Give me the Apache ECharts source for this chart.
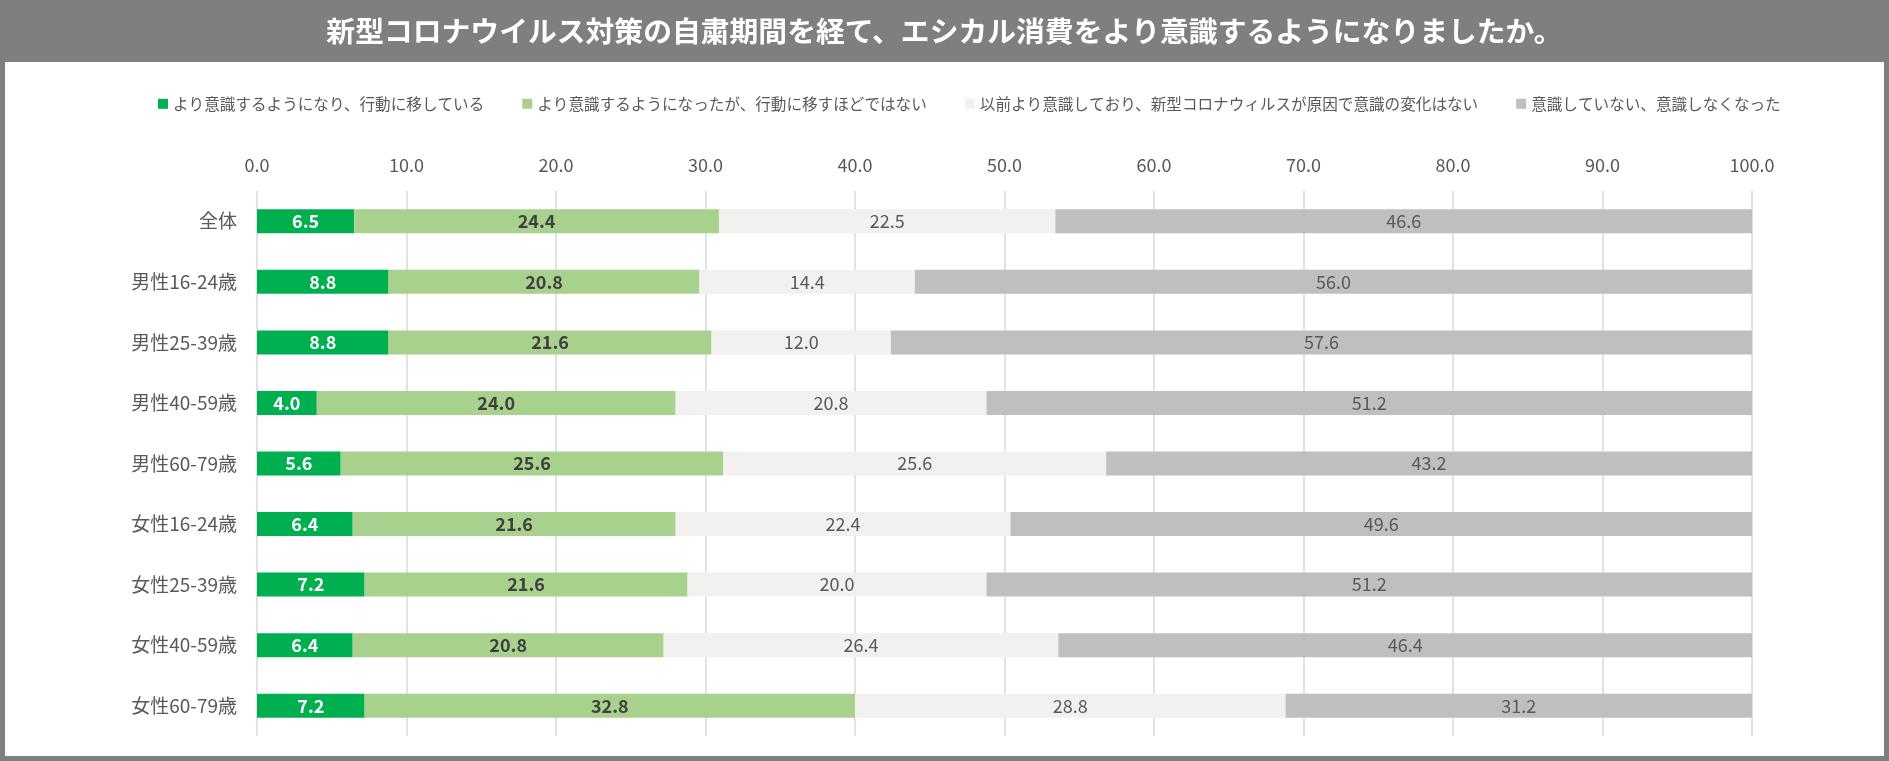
<!DOCTYPE html>
<html><head><meta charset="utf-8">
<script src="https://cdn.jsdelivr.net/npm/echarts@6/dist/echarts.min.js"></script>
<style>html,body{margin:0;padding:0;background:#fff}#c{width:1889px;height:761px}</style>
</head><body><div id="c"></div>
<script>
const titleText = '新型コロナウイルス対策の自粛期間を経て、エシカル消費をより意識するようになりましたか。';
const categories = ['全体','男性16-24歳','男性25-39歳','男性40-59歳','男性60-79歳','女性16-24歳','女性25-39歳','女性40-59歳','女性60-79歳'];
const seriesNames = ['より意識するようになり、行動に移している','より意識するようになったが、行動に移すほどではない','以前より意識しており、新型コロナウィルスが原因で意識の変化はない','意識していない、意識しなくなった'];
const s1 = [6.5, 8.8, 8.8, 4.0, 5.6, 6.4, 7.2, 6.4, 7.2];
const s2 = [24.4, 20.8, 21.6, 24.0, 25.6, 21.6, 21.6, 20.8, 32.8];
const s3 = [22.5, 14.4, 12.0, 20.8, 25.6, 22.4, 20.0, 26.4, 28.8];
const s4 = [46.6, 56.0, 57.6, 51.2, 43.2, 49.6, 51.2, 46.4, 31.2];
const colors = ['#00B050','#A9D18E','#F2F1EF','#BFBFBF'];
const labelColors = ['#FFFFFF','#404040','#595959','#595959'];
const labelWeights = ['bold','bold','normal','normal'];
const FONT = '"Noto Sans CJK JP","Noto Sans",sans-serif';

const chart = echarts.init(document.getElementById('c'));
const data = [s1,s2,s3,s4];
chart.setOption({
  backgroundColor: '#7F7F7F',
  animation: false,
  textStyle: {fontFamily: FONT},
  graphic: [{type:'rect', shape:{x:5,y:62,width:1879,height:694}, style:{fill:'#FFFFFF'}, z:-10, silent:true}],
  title: {text: titleText, left: 'center', top: 12, textStyle:{color:'#FFFFFF', fontSize:28.8, fontWeight:'bold', fontFamily:FONT}},
  legend: {top: 91, left: 153, itemWidth: 10, itemHeight: 10, itemGap: 38, icon: 'rect',
    textStyle:{color:'#595959', fontSize:15.6, fontFamily:FONT}, data: seriesNames},
  grid: {left: 257, right: 137, top: 191, bottom: 25},
  xAxis: {type:'value', position:'top', min:0, max:100, interval:10,
    axisLabel:{formatter: v => v.toFixed(1), color:'#595959', fontSize:18, margin:17, fontFamily:FONT},
    splitLine:{lineStyle:{color:'#D9D9D9', width:1.5}}, axisLine:{show:false}, axisTick:{show:false}},
  yAxis: {type:'category', inverse:true, data: categories,
    axisLabel:{color:'#595959', fontSize:19, margin:20, fontFamily:FONT},
    axisLine:{show:false}, axisTick:{show:false}},
  series: data.map((d,i)=>({
    name: seriesNames[i], type:'bar', stack:'total', barWidth:24, data:d,
    itemStyle:{color:colors[i]},
    label:{show:true, position:'inside', formatter: p => p.value.toFixed(1),
      color: labelColors[i], fontWeight: labelWeights[i], fontSize:18, fontFamily:FONT}
  }))
});
</script></body></html>
